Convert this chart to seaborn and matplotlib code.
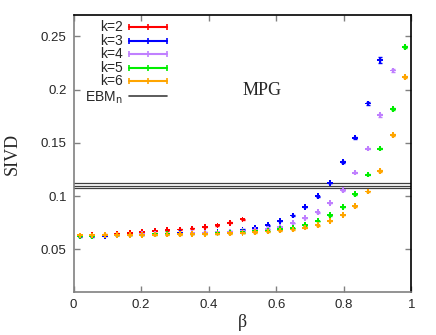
import seaborn as sns
import pandas as pd
import matplotlib.pyplot as plt

# beta values (midpoints of 27 bins)
beta = [0.0185, 0.0556, 0.0926, 0.1296, 0.1667, 0.2037, 0.2407, 0.2778, 0.3148,
        0.3519, 0.3889, 0.4259, 0.4630, 0.5000, 0.5370, 0.5741, 0.6111, 0.6481,
        0.6852, 0.7222, 0.7593, 0.7963, 0.8333, 0.8704, 0.9074, 0.9444, 0.9815]

k2 = [0.0630, 0.0635, 0.0640, 0.0650, 0.0656, 0.0665, 0.0672, 0.0680, 0.0688,
      0.0697, 0.0710, 0.0726, 0.0751, 0.0782]
k3 = [0.0622, 0.0624, 0.0630, 0.0636, 0.0638, 0.0642, 0.0645, 0.0648, 0.0652,
      0.0655, 0.0658, 0.0662, 0.0666, 0.0688, 0.0703, 0.0728, 0.0766, 0.0819,
      0.0900, 0.1000, 0.1125, 0.1322, 0.1550, 0.1870, 0.2276]
k4 = [0.0630, 0.0630, 0.0635, 0.0638, 0.0640, 0.0643, 0.0645, 0.0647, 0.0650,
      0.0653, 0.0656, 0.0660, 0.0664, 0.0672, 0.0680, 0.0692, 0.0712, 0.0747,
      0.0797, 0.0850, 0.0937, 0.1056, 0.1222, 0.1447, 0.1760, 0.2180]
k5 = [0.0630, 0.0630, 0.0635, 0.0637, 0.0638, 0.0640, 0.0642, 0.0644, 0.0646,
      0.0648, 0.0650, 0.0652, 0.0655, 0.0662, 0.0670, 0.0675, 0.0690, 0.0703,
      0.0728, 0.0768, 0.0822, 0.0900, 0.1019, 0.1203, 0.1447, 0.1816, 0.2400]
k6 = [0.0632, 0.0632, 0.0635, 0.0636, 0.0637, 0.0639, 0.0640, 0.0641, 0.0643,
      0.0645, 0.0647, 0.0649, 0.0651, 0.0656, 0.0662, 0.0669, 0.0678, 0.0688,
      0.0706, 0.0728, 0.0768, 0.0825, 0.0906, 0.1044, 0.1237, 0.1575, 0.2116]

# error bars (mostly hidden under the markers)
e2 = [0.0003] * 14
e3 = [0.0003] * 21 + [0.0006, 0.0010, 0.0014, 0.0026]
e4 = [0.0003] * 22 + [0.0006, 0.0008, 0.0012, 0.0018]
e5 = [0.0003] * 23 + [0.0006, 0.0008, 0.0010, 0.0012]
e6 = [0.0003] * 23 + [0.0005, 0.0006, 0.0008, 0.0010]

ebm_value = 0.110
ebm_err = 0.002

labels = ['k=2', 'k=3', 'k=4', 'k=5', 'k=6']
colors = ['#ff0000', '#0000ff', '#c080ff', '#00ee00', '#ffa500']
series = [k2, k3, k4, k5, k6]
errors = [e2, e3, e4, e5, e6]

rows = []
for lab, vals, errs in zip(labels, series, errors):
    for b, v, e in zip(beta, vals, errs):
        rows.append({'beta': b, 'SIVD': v, 'err': e, 'k': lab})
df = pd.DataFrame(rows)

sns.set_style('ticks')
plt.rcParams['font.family'] = ['Liberation Sans', 'DejaVu Sans']

fig = plt.figure(figsize=(4.36, 3.35), dpi=100)
ax = fig.add_axes([0.1686, 0.128, 0.7752, 0.827])

# EBM_n reference with its error band
ebm_color = '#404040'
for yv in [ebm_value - ebm_err, ebm_value, ebm_value + ebm_err]:
    ax.axhline(yv, color=ebm_color, lw=0.9, zorder=1)

for lab, col in zip(labels, colors):
    sub = df[df['k'] == lab]
    ax.errorbar(sub['beta'], sub['SIVD'], yerr=sub['err'], fmt='none',
                ecolor=col, elinewidth=1, capsize=1.5, capthick=1, zorder=2)

sns.scatterplot(data=df, x='beta', y='SIVD', hue='k', palette=colors,
                hue_order=labels, marker='P', s=17, linewidth=0,
                legend=False, ax=ax, zorder=3)

ax.set_xlim(0, 1)
ax.set_ylim(0.01, 0.27)
ax.set_xticks([0, 0.2, 0.4, 0.6, 0.8, 1])
ax.set_xticklabels(['0', '0.2', '0.4', '0.6', '0.8', '1'])
ax.set_yticks([0.05, 0.1, 0.15, 0.2, 0.25])
ax.set_yticklabels(['0.05', '0.1', '0.15', '0.2', '0.25'])
ax.tick_params(direction='in', length=4, width=1, color='#808080',
               labelsize=9.5, top=True, right=True, pad=5)

for side in ['left', 'bottom']:
    ax.spines[side].set_color('#808080')
for side in ['top', 'right']:
    ax.spines[side].set_color('black')
for sp in ax.spines.values():
    sp.set_linewidth(1.2)

ax.set_xlabel('β', family='Liberation Serif', fontsize=13, labelpad=2)
ax.set_ylabel('SIVD', family='Liberation Serif', fontsize=13, labelpad=14)

ax.text(0.558, 0.199, 'MPG', family='Liberation Serif', fontsize=13,
        ha='center', va='center')

# gnuplot-like key: right-aligned labels, sample line with ticks
y0, dy = 0.956, 0.0487
for i, (lab, col) in enumerate(zip(labels, colors)):
    yk = y0 - i * dy
    ax.text(0.1464, yk, lab, transform=ax.transAxes, ha='right', va='center',
            fontsize=10)
    ax.plot([0.1642, 0.2204, 0.2766], [yk, yk, yk], color=col, lw=1.5,
            marker='|', markersize=4, markeredgewidth=1.2,
            transform=ax.transAxes, clip_on=False)

yk = y0 - 5 * dy - 0.006
ax.text(0.1464, yk - 0.004, r'EBM$_\mathrm{n}$', transform=ax.transAxes,
        ha='right', va='center', fontsize=10)
ax.plot([0.1642, 0.2766], [yk, yk], color=ebm_color, lw=1.2,
        transform=ax.transAxes, clip_on=False)

plt.savefig('out.png', dpi=100)
